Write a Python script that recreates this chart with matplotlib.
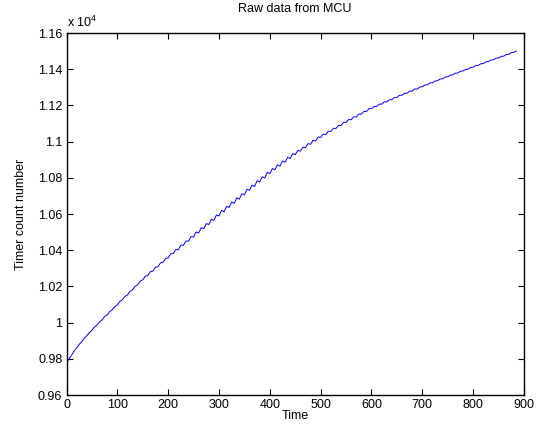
import numpy as np
import matplotlib
matplotlib.use("Agg")
import matplotlib.pyplot as plt
from matplotlib.ticker import FuncFormatter

plt.rcParams['font.family'] = ['Liberation Sans', 'DejaVu Sans']
plt.rcParams['mathtext.default'] = 'regular'

# sample time (one reading every 5 time units)
time = np.arange(0, 886, 5)

# raw timer counts read from the MCU
counts = [
    9775, 9800, 9820, 9843, 9860, 9880, 9895, 9914, 9928, 9945,
    9958, 9976, 9987, 10005, 10015, 10034, 10043, 10061, 10071, 10089,
    10098, 10117, 10126, 10145, 10153, 10173, 10181, 10201, 10209, 10229,
    10237, 10256, 10260, 10282, 10285, 10306, 10309, 10330, 10334, 10355,
    10357, 10380, 10381, 10404, 10402, 10428, 10427, 10451, 10450, 10475,
    10473, 10501, 10495, 10524, 10519, 10547, 10542, 10571, 10565, 10595,
    10589, 10620, 10612, 10642, 10636, 10667, 10659, 10690, 10682, 10713,
    10706, 10737, 10731, 10760, 10752, 10784, 10777, 10806, 10799, 10830,
    10823, 10851, 10845, 10872, 10864, 10893, 10886, 10913, 10906, 10934,
    10928, 10951, 10947, 10970, 10966, 10989, 10985, 11007, 11003, 11026,
    11023, 11041, 11039, 11058, 11056, 11074, 11072, 11090, 11089, 11107,
    11106, 11122, 11121, 11137, 11136, 11152, 11151, 11167, 11166, 11182,
    11182, 11194, 11194, 11207, 11207, 11219, 11219, 11231, 11232, 11244,
    11244, 11256, 11256, 11267, 11267, 11279, 11279, 11291, 11290, 11302,
    11303, 11313, 11314, 11324, 11325, 11335, 11336, 11346, 11347, 11357,
    11358, 11367, 11369, 11378, 11379, 11389, 11390, 11399, 11400, 11410,
    11411, 11420, 11421, 11430, 11431, 11441, 11442, 11451, 11452, 11461,
    11462, 11471, 11472, 11481, 11482, 11492, 11493, 11501,
]

xticks = [0, 100, 200, 300, 400, 500, 600, 700, 800, 900]
yticks = [0.96, 0.98, 1.0, 1.02, 1.04, 1.06, 1.08, 1.1, 1.12, 1.14, 1.16]

fig = plt.figure(figsize=(5.46, 4.32), dpi=100)
ax = fig.add_axes([0.1218, 0.0856, 0.8379, 0.838])

ax.plot(time, np.array(counts) / 1e4, color='#0000ff', lw=0.7)

ax.set_xlim(0, 900)
ax.set_ylim(0.96, 1.16)
ax.set_xticks(xticks)
ax.set_yticks(yticks)
ax.yaxis.set_major_formatter(FuncFormatter(lambda v, p: '%g' % round(v, 2)))
ax.tick_params(direction='in', length=4, width=0.8, top=True, right=True,
               labelsize=9, colors='black', pad=3)
for s in ax.spines.values():
    s.set_linewidth(1.0)

ax.set_title('Raw data from MCU', fontsize=9, pad=15)
ax.set_xlabel('Time', fontsize=9, labelpad=-1)
ax.set_ylabel('Timer count number', fontsize=9, labelpad=8)
ax.text(0.0, 1.008, r'x 10$^{4}$', transform=ax.transAxes, fontsize=9,
        ha='left', va='bottom')

fig.savefig('out.png', dpi=100)
